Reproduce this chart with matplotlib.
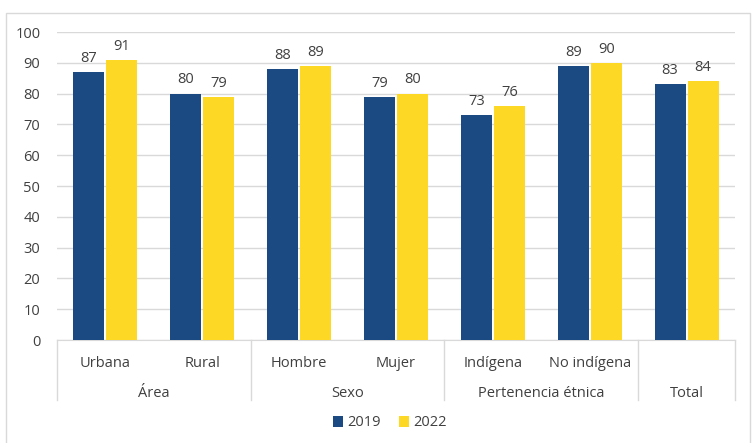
import matplotlib.pyplot as plt
import matplotlib.patches as mpatches
import numpy as np

# Data
categories = ["Urbana", "Rural", "Hombre", "Mujer", "Indígena", "No indígena", "Total"]
tick_labels = ["Urbana", "Rural", "Hombre", "Mujer", "Indígena", "No indígena", ""]
groups = ["Área", "Sexo", "Pertenencia étnica", "Total"]
group_sizes = [2, 2, 2, 1]
values_2019 = [87, 80, 88, 79, 73, 89, 83]
values_2022 = [91, 79, 89, 80, 76, 90, 84]

NAVY = "#1b4a82"
YELLOW = "#fdd824"
TEXT = "#404040"
GRID = "#d9d9d9"

plt.rcParams["font.family"] = ["Open Sans", "DejaVu Sans"]

fig = plt.figure(figsize=(7.56, 4.43), dpi=100)
ax = fig.add_axes([57 / 756, 1 - 340 / 443, 678 / 756, 308 / 443])

# outer frame of the chart
fig.add_artist(mpatches.Rectangle((6 / 756, -0.02), 744 / 756, 1 - 13 / 443 + 0.02,
                                  transform=fig.transFigure, fill=False,
                                  edgecolor=GRID, linewidth=1))

x = np.arange(len(categories))
w = 0.32
b1 = ax.bar(x - 0.17, values_2019, w, color=NAVY, label="2019", zorder=3)
b2 = ax.bar(x + 0.17, values_2022, w, color=YELLOW, label="2022", zorder=3)
for bars in (b1, b2):
    for r in bars:
        ax.text(r.get_x() + r.get_width() / 2, r.get_height() + 2, f"{r.get_height():.0f}",
                ha="center", va="bottom", fontsize=10.5, color=TEXT)

ax.set_xlim(-0.5, len(categories) - 0.5)
ax.set_ylim(0, 100)
ax.set_yticks(range(0, 101, 10))
ax.tick_params(axis="y", length=0, labelsize=10.5, labelcolor=TEXT, pad=12)
ax.set_xticks([])
ax.yaxis.grid(True, color=GRID, linewidth=1, zorder=0)
for s in ["top", "right", "left"]:
    ax.spines[s].set_visible(False)
ax.spines["bottom"].set_color(GRID)

# two-level category axis
for i, c in enumerate(tick_labels):
    ax.text(i, -5.2, c, ha="center", va="top", fontsize=10.5, color=TEXT, clip_on=False)
start = 0
bounds = [-0.5]
for g, n in zip(groups, group_sizes):
    centre = start + (n - 1) / 2
    ax.text(centre, -15.0, g, ha="center", va="top", fontsize=10.5, color=TEXT, clip_on=False)
    start += n
    bounds.append(start - 0.5)
for bx in bounds:
    ax.plot([bx, bx], [0, -19.5], color=GRID, linewidth=1, clip_on=False)

fig.legend(handles=[b1, b2], labels=["2019", "2022"], loc="center",
           bbox_to_anchor=(390 / 756, 1 - 423 / 443), ncol=2, frameon=False,
           fontsize=10.5, handlelength=0.7, handleheight=0.7, handletextpad=0.3,
           columnspacing=1.2, labelcolor=TEXT)

fig.savefig("out.png", dpi=100)
